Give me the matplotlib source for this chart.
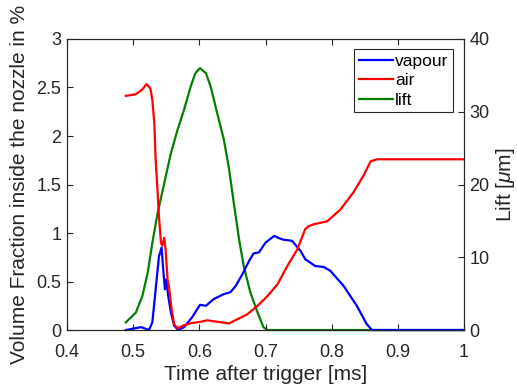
import numpy as np
import matplotlib.pyplot as plt

plt.rcParams['font.family'] = ['Liberation Sans', 'DejaVu Sans']
plt.rcParams['mathtext.fontset'] = 'custom'
plt.rcParams['mathtext.it'] = 'Liberation Sans:italic'
plt.rcParams['mathtext.rm'] = 'Liberation Sans'

# vapour volume fraction [%]
t_vap = [0.489, 0.512, 0.524, 0.529, 0.534, 0.539, 0.543, 0.545, 0.548, 0.550, 0.553, 0.557,
         0.562, 0.568, 0.577, 0.589, 0.601, 0.610, 0.622, 0.637, 0.647, 0.655, 0.665, 0.675,
         0.682, 0.690, 0.700, 0.713, 0.723, 0.728, 0.740, 0.753, 0.760, 0.775, 0.788, 0.798,
         0.818, 0.838, 0.853, 0.861, 0.9, 1.0]
vapour = [0.0, 0.03, 0.0, 0.08, 0.42, 0.76, 0.85, 0.66, 0.42, 0.52, 0.35, 0.18,
          0.045, 0.0, 0.03, 0.13, 0.26, 0.25, 0.32, 0.37, 0.39, 0.455, 0.575, 0.71,
          0.79, 0.80, 0.90, 0.97, 0.94, 0.93, 0.92, 0.815, 0.73, 0.66, 0.65, 0.61,
          0.455, 0.25, 0.06, 0.0, 0.0, 0.0]

# air volume fraction [%]
t_air = [0.489, 0.504, 0.514, 0.520, 0.526, 0.529, 0.532, 0.534, 0.537, 0.539, 0.542, 0.544,
         0.547, 0.549, 0.552, 0.554, 0.558, 0.562, 0.567, 0.577, 0.587, 0.602, 0.612, 0.627,
         0.645, 0.657, 0.672, 0.688, 0.703, 0.718, 0.733, 0.748, 0.760, 0.765, 0.773, 0.793,
         0.813, 0.833, 0.848, 0.859, 0.869, 0.9, 1.0]
air = [2.414, 2.43, 2.48, 2.535, 2.49, 2.37, 2.13, 1.76, 1.41, 1.17, 0.90, 0.87,
       0.95, 0.83, 0.52, 0.455, 0.216, 0.06, 0.017, 0.05, 0.07, 0.085, 0.10, 0.085,
       0.068, 0.11, 0.16, 0.25, 0.35, 0.47, 0.66, 0.83, 1.04, 1.07, 1.09, 1.12,
       1.24, 1.42, 1.59, 1.74, 1.76, 1.76, 1.76]

# needle lift [um]
t_lift = [0.489, 0.504, 0.514, 0.522, 0.529, 0.537, 0.547, 0.557, 0.567, 0.577, 0.587, 0.594,
          0.601, 0.610, 0.617, 0.627, 0.637, 0.645, 0.652, 0.660, 0.667, 0.677, 0.688, 0.697,
          0.703, 0.8, 0.9, 1.0]
lift = [1.05, 2.4, 4.7, 7.9, 12.0, 16.1, 20.2, 24.3, 27.5, 30.3, 33.5, 35.3,
        36.0, 35.3, 33.5, 29.8, 26.2, 22.1, 17.5, 12.5, 8.8, 5.2, 2.4, 0.37,
        0.0, 0.0, 0.0, 0.0]

axcol = (0.15, 0.15, 0.15)

fig = plt.figure(figsize=(5.17, 3.86), dpi=100)
ax1 = fig.add_axes([0.1296, 0.145, 0.7679, 0.754])
ax2 = ax1.twinx()

l1, = ax1.plot(t_vap, vapour, color=(0, 0, 1), lw=1.6, clip_on=False)
l2, = ax1.plot(t_air, air, color=(1, 0, 0), lw=1.6, clip_on=False)
l3, = ax2.plot(t_lift, lift, color=(0, 0.5, 0), lw=1.6, clip_on=False)

ax1.set_xlim(0.4, 1.0)
ax1.set_ylim(0, 3)
ax2.set_ylim(0, 40)
ax1.set_xticks(np.arange(0.4, 1.01, 0.1))
ax1.set_xticklabels(['0.4', '0.5', '0.6', '0.7', '0.8', '0.9', '1'])
ax1.set_yticks(np.arange(0, 3.01, 0.5))
ax1.set_yticklabels(['0', '0.5', '1', '1.5', '2', '2.5', '3'])
ax2.set_yticks([0, 10, 20, 30, 40])

for ax in (ax1, ax2):
    for s in ax.spines.values():
        s.set_color(axcol)
        s.set_linewidth(0.8)
ax1.tick_params(axis='x', direction='in', top=True, length=4, labelsize=13,
                colors=axcol, width=0.8, pad=10)
ax1.tick_params(axis='y', direction='in', length=4, labelsize=13, colors=axcol, width=0.8, pad=4)
ax2.tick_params(axis='y', direction='in', length=4, labelsize=13, colors=axcol, width=0.8, pad=4)

ax1.set_xlabel('Time after trigger [ms]', fontsize=15, color=axcol, labelpad=3)
ax1.set_ylabel('Volume Fraction inside the nozzle in %', fontsize=15, color=axcol, labelpad=2)
ax1.yaxis.set_label_coords(-0.095, 0.5)
ax2.set_ylabel(r'Lift [$\mu$m]', fontsize=15, color=axcol, labelpad=3)

leg = ax1.legend([l1, l2, l3], ['vapour', 'air', 'lift'], loc='upper right', fontsize=12.5,
                 fancybox=False, framealpha=1, edgecolor=axcol, handlelength=2.0,
                 handletextpad=0.1, labelspacing=0.25, borderpad=0.25,
                 bbox_to_anchor=(0.972, 0.965), borderaxespad=0)
leg.get_frame().set_linewidth(0.8)
leg.set_zorder(10)
ax1.set_zorder(ax2.get_zorder() + 1)
ax1.patch.set_visible(False)

plt.savefig('out.png', dpi=100)
